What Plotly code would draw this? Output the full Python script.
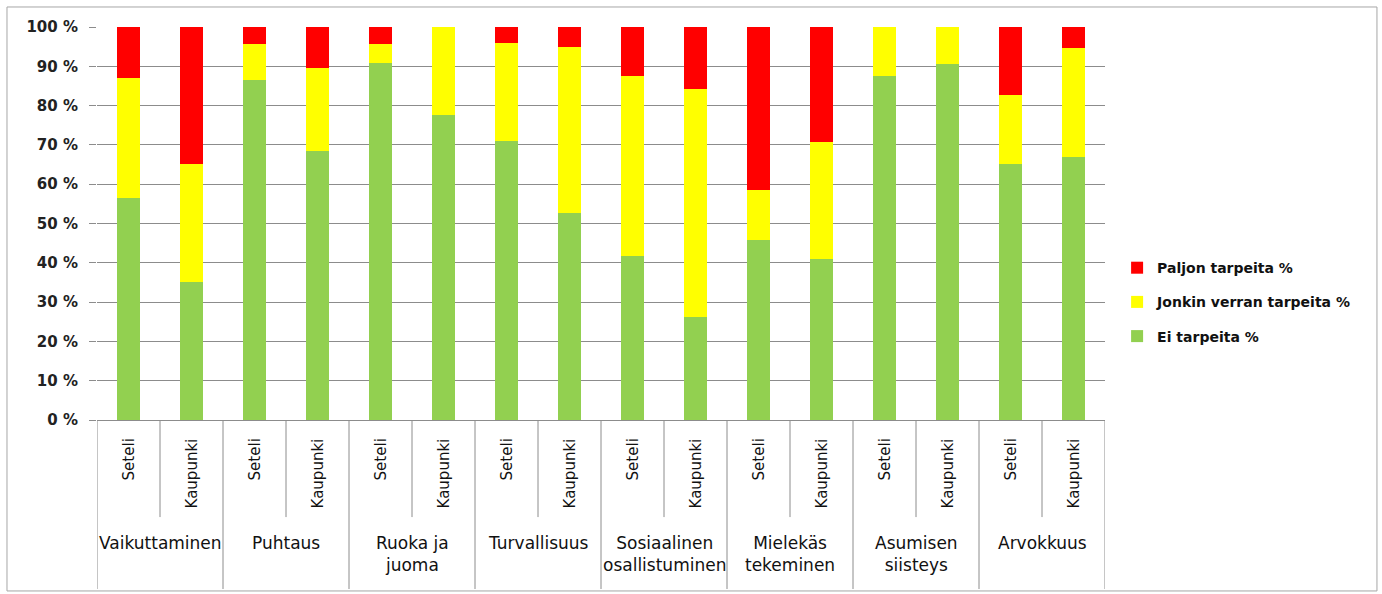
import plotly.graph_objects as go

groups = ["Vaikuttaminen", "Puhtaus", "Ruoka ja<br>juoma", "Turvallisuus",
          "Sosiaalinen<br>osallistuminen", "Mielekäs<br>tekeminen",
          "Asumisen<br>siisteys", "Arvokkuus"]
subs = ["Seteli", "Kaupunki"]

ei_tarpeita = [56.6, 35.0, 86.5, 68.4, 90.9, 77.7, 71.0, 52.6,
               41.7, 26.2, 45.8, 41.0, 87.5, 90.6, 65.2, 66.9]
jonkin_verran = [30.4, 30.2, 9.1, 21.1, 4.7, 22.3, 24.9, 42.2,
                 45.8, 58.0, 12.7, 29.7, 12.5, 9.4, 17.6, 27.7]
paljon = [13.0, 34.8, 4.4, 10.5, 4.4, 0.0, 4.1, 5.2,
          12.5, 15.8, 41.5, 29.3, 0.0, 0.0, 17.2, 5.4]

series = [("Ei tarpeita %", ei_tarpeita, "#92D050"),
          ("Jonkin verran tarpeita %", jonkin_verran, "#FFFF00"),
          ("Paljon tarpeita %", paljon, "#FF0000")]

n_sub = len(subs)
xs = list(range(len(groups) * n_sub))

fig = go.Figure()
for i, (name, vals, col) in enumerate(series):
    fig.add_trace(go.Bar(x=xs, y=vals, name=name, marker_color=col,
                         marker_line_width=0, width=0.38,
                         legendgroup=str(i), legendrank=len(series) - i))

FONT = "DejaVu Sans"
GRID = "#8c8c8c"

# sub-category labels (rotated)
annotations = []
for gi, g in enumerate(groups):
    for si, s in enumerate(subs):
        annotations.append(dict(x=gi * n_sub + si, xref="x", y=-0.043, yref="paper",
                                text=s, textangle=-90, showarrow=False,
                                xanchor="center", yanchor="top",
                                font=dict(family=FONT, size=15, color="#111")))
    annotations.append(dict(x=gi * n_sub + (n_sub - 1) / 2, xref="x", y=-0.282, yref="paper",
                            text=g, showarrow=False, xanchor="center", yanchor="top",
                            font=dict(family=FONT, size=17, color="#111")))

shapes = []
# group boundary lines
for gi in range(len(groups) + 1):
    xb = gi * n_sub - 0.5
    shapes.append(dict(type="line", xref="x", yref="paper", x0=xb, x1=xb,
                       y0=0, y1=-0.43, line=dict(color=GRID, width=1)))
# sub-category divider lines
for gi in range(len(groups)):
    for si in range(1, n_sub):
        xb = gi * n_sub + si - 0.5
        shapes.append(dict(type="line", xref="x", yref="paper", x0=xb, x1=xb,
                           y0=0, y1=-0.247, line=dict(color=GRID, width=1)))
# outer chart border
shapes.append(dict(type="rect", xref="paper", yref="paper",
                   x0=-0.0893, x1=1.2698, y0=-0.435, y1=1.0509,
                   line=dict(color="#a6a6a6", width=1), fillcolor="rgba(0,0,0,0)"))

fig.update_layout(
    width=1382, height=594,
    margin=dict(l=97, r=277, t=27, b=174),
    barmode="stack",
    plot_bgcolor="white", paper_bgcolor="white",
    showlegend=True,
    legend=dict(x=1.012, y=0.30, xanchor="left", yanchor="middle",
                traceorder="grouped", tracegroupgap=13,
                font=dict(family=FONT, size=14, color="#111", weight="bold"),
                bgcolor="rgba(0,0,0,0)"),
    xaxis=dict(range=[-0.5, len(xs) - 0.5], showticklabels=False, ticks="",
               showgrid=False, zeroline=False, showline=True, linecolor=GRID,
               linewidth=1),
    yaxis=dict(range=[0, 100], dtick=10, ticksuffix=" %", showgrid=True,
               gridcolor=GRID, gridwidth=1, zeroline=False, showline=False,
               ticks="outside", ticklen=7, tickcolor=GRID, ticklabelstandoff=8,
               tickfont=dict(family=FONT, size=15, color="#222", weight="bold")),
    annotations=annotations, shapes=shapes,
    bargap=0,
)

fig.write_html("out.html")
